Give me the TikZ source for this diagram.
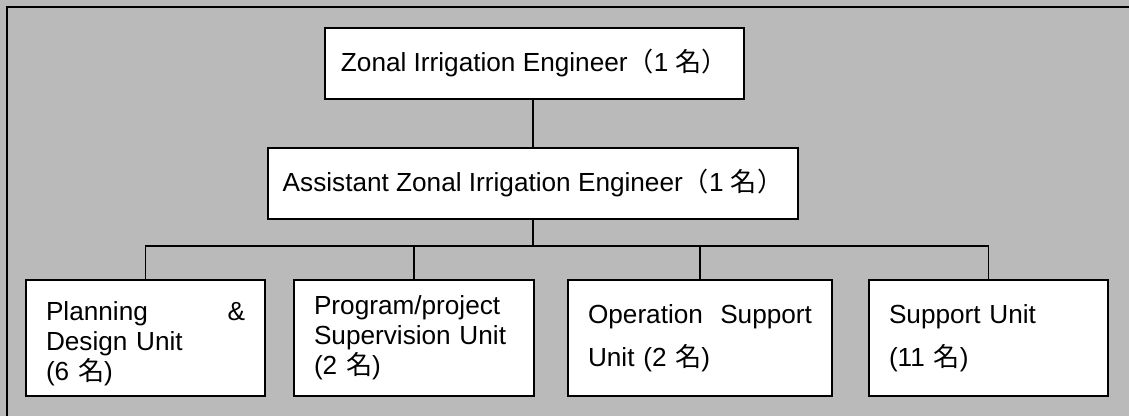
\documentclass[tikz,border=0pt]{standalone}
\usepackage{fontspec}
\setmainfont{Liberation Sans}
\newfontfamily\cjk{Noto Sans CJK JP}
\newcommand{\mei}{{\cjk 名}}
\begin{document}
\begin{tikzpicture}[x=0.02cm, y=-0.02cm,
  font=\fontsize{14.9}{17}\selectfont,
  post/.style={draw, rectangle, fill=white, line width=1pt, minimum height=1.42cm},
  unit/.style={draw, rectangle, fill=white, line width=1pt, align=left, minimum height=2.32cm, inner xsep=0.4cm, inner ysep=0pt}]
\useasboundingbox (0,0) rectangle (1129,416);
\fill[black!27] (0,0) rectangle (1129,416);
\draw[line width=1pt] (7,416) -- (7,7) -- (1129,7);
\node[post, minimum width=8.38cm] (zie) at (534.5,63.5) {Zonal Irrigation Engineer{\cjk （}1 {\cjk 名）}};
\node[post, minimum width=10.6cm] (azie) at (533,183.5) {Assistant Zonal Irrigation Engineer{\cjk （}1 {\cjk 名）}};
\node[unit, text width=3.98cm] (pdu) at (145.5,338) {\rule{0pt}{17.6pt}Planning\hfill\&\\Design Unit\\(6 \mei)};
\node[unit, text width=4.0cm] (psu) at (414,338) {Program/project\\Supervision Unit\\(2 \mei)};
\node[unit, text width=4.48cm] (osu) at (700,338) {Operation\hfill Support\\[7.4pt]Unit (2 \mei)};
\node[unit, text width=3.98cm] (su) at (988.5,338) {Support Unit\\[7.4pt](11 \mei)};
\coordinate (bus) at (533,246);
\draw[line width=1pt] (zie.south -| azie) -- (azie);
\draw[line width=1pt] (azie) -- (bus);
\foreach \u in {pdu,psu,osu,su}
  \draw[line width=1pt] (\u.north) |- (bus);
\end{tikzpicture}
\end{document}
